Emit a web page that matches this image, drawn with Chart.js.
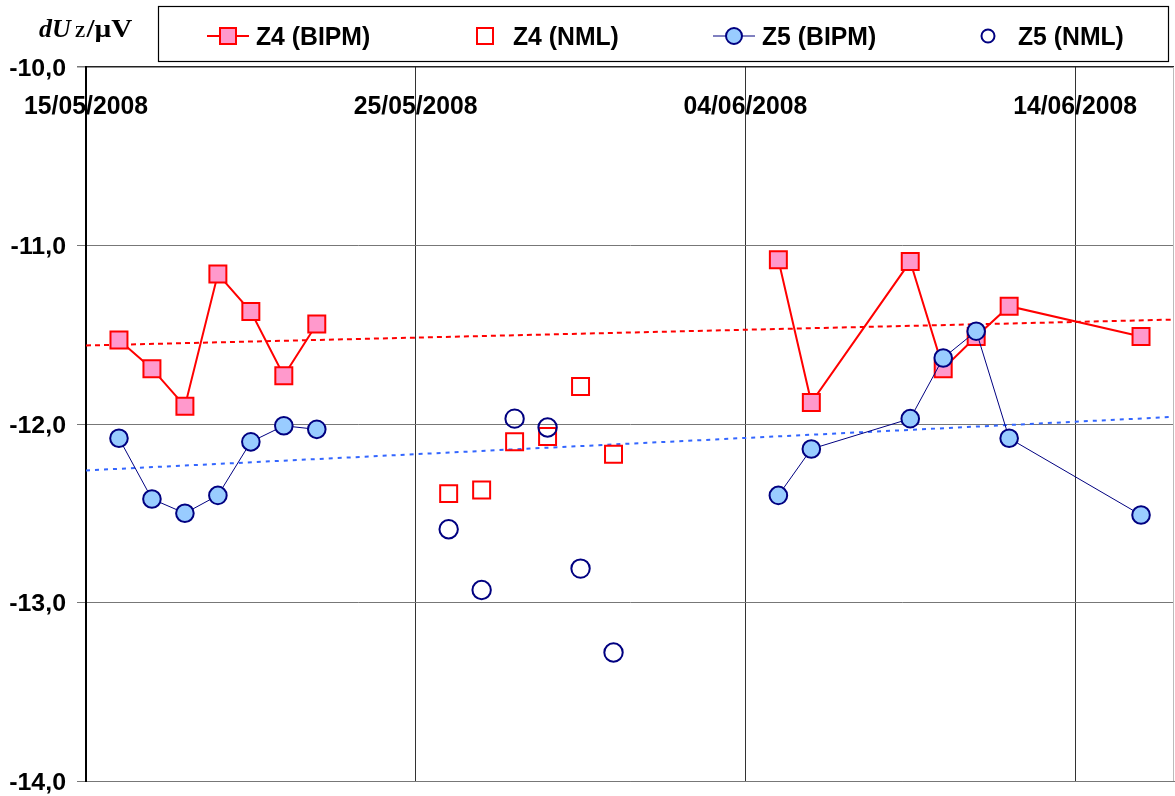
<!DOCTYPE html>
<html>
<head>
<meta charset="utf-8">
<script src="https://cdn.jsdelivr.net/npm/chart.js@4/dist/chart.umd.min.js"></script>
<style>
  body { margin: 0; background: #fff; }
  canvas { display: block; }
</style>
</head>
<body>
<canvas id="dUzChart" width="1175" height="796"></canvas>
<script>
// dates are dd/mm/yyyy, converted to days after 15/05/2008 for a linear x axis
const startDate = "15/05/2008";
const endDate = "17/06/2008";
const xTickDates = ["15/05/2008", "25/05/2008", "04/06/2008", "14/06/2008"];
const yTicks = [-10, -11, -12, -13, -14];

const bipmDates = ["16/05/2008", "17/05/2008", "18/05/2008", "19/05/2008", "20/05/2008", "21/05/2008", "22/05/2008",
  "28/05/2008",
  "05/06/2008", "06/06/2008", "09/06/2008", "10/06/2008", "11/06/2008", "12/06/2008", "16/06/2008"];
const z4Bipm = [-11.53, -11.69, -11.90, -11.16, -11.37, -11.73, -11.44, null, -11.08, -11.88, -11.09, -11.69, -11.51, -11.34, -11.51];
const z5Bipm = [-12.08, -12.42, -12.50, -12.40, -12.10, -12.01, -12.03, null, -12.40, -12.14, -11.97, -11.63, -11.48, -12.08, -12.51];

const nmlDates = ["26/05/2008", "27/05/2008", "28/05/2008", "29/05/2008", "30/05/2008", "31/05/2008"];
const z4Nml = [-12.39, -12.37, -12.10, -12.07, -11.79, -12.17];
const z5Nml = [-12.59, -12.93, -11.97, -12.02, -12.81, -13.28];

// linear trend lines (ends)
const trendDates = ["15/05/2008", "17/06/2008"];
const z4Trend = [-11.56, -11.415];
const z5Trend = [-12.26, -11.96];

function dayOf(s) {
  const [d, m, y] = s.split("/").map(Number);
  const [d0, m0, y0] = startDate.split("/").map(Number);
  return (Date.UTC(y, m - 1, d) - Date.UTC(y0, m0 - 1, d0)) / 86400000;
}
function pts(dates, vals) {
  return dates.map((d, i) => ({ x: dayOf(d), y: vals[i] }));
}

const RED = "#ff0000", PINK = "#ff99cc", NAVY = "#000080", LIGHTBLUE = "#99ccff";
const SANS = "'Liberation Sans', Arial, sans-serif";
const SERIF = "'Liberation Serif', 'Times New Roman', serif";

function stretchText(ctx, text, x, y, font, align, sx) {
  ctx.save();
  ctx.font = font;
  ctx.textAlign = align;
  ctx.textBaseline = "alphabetic";
  ctx.fillStyle = "#000";
  ctx.translate(x, y);
  ctx.scale(sx, 1);
  ctx.fillText(text, 0, 0);
  const w = ctx.measureText(text).width * sx;
  ctx.restore();
  return w;
}

const extras = {
  id: "extras",
  afterDraw(chart) {
    const ctx = chart.ctx;
    const xs = chart.scales.x, ys = chart.scales.y;
    const area = chart.chartArea;

    // right border
    ctx.save();
    ctx.strokeStyle = "#bbbbbb";
    ctx.lineWidth = 1;
    ctx.beginPath();
    ctx.moveTo(area.right - 0.5, area.top);
    ctx.lineTo(area.right - 0.5, area.bottom);
    ctx.stroke();
    ctx.restore();

    // y tick labels
    yTicks.forEach(v => {
      const y = ys.getPixelForValue(v);
      stretchText(ctx, v.toFixed(1).replace(".", ","), 66, y + 8.5, "bold 23.5px " + SANS, "right", 1.06);
    });
    // x tick labels, inside the plot under the top axis
    xTickDates.forEach(d => {
      const x = xs.getPixelForValue(dayOf(d));
      stretchText(ctx, d, x, 113.5, "bold 25px " + SANS, "center", 0.99);
    });

    // axis title dU_Z/µV
    let tx = 39;
    tx += stretchText(ctx, "dU", tx, 37, "italic bold 26px " + SERIF, "left", 1.0);
    tx += 4;
    tx += stretchText(ctx, "Z", tx, 37, "bold 16px " + SERIF, "left", 1.0);
    stretchText(ctx, "/\u00b5V", tx + 1, 37, "bold 26px " + SERIF, "left", 1.12);

    // legend box
    ctx.save();
    ctx.strokeStyle = "#000";
    ctx.lineWidth = 1.2;
    ctx.strokeRect(158.5, 6.5, 1010, 55);
    const ly = 36;
    // Z4 (BIPM)
    ctx.strokeStyle = RED; ctx.lineWidth = 2;
    ctx.beginPath(); ctx.moveTo(207, ly); ctx.lineTo(249, ly); ctx.stroke();
    ctx.fillStyle = PINK;
    ctx.fillRect(220, ly - 8, 16, 16);
    ctx.strokeRect(220, ly - 8, 16, 16);
    // Z4 (NML)
    ctx.strokeRect(477, ly - 8, 16, 16);
    // Z5 (BIPM)
    ctx.strokeStyle = NAVY; ctx.lineWidth = 1;
    ctx.beginPath(); ctx.moveTo(713, ly); ctx.lineTo(755, ly); ctx.stroke();
    ctx.lineWidth = 2; ctx.fillStyle = LIGHTBLUE;
    ctx.beginPath(); ctx.arc(734, ly, 8, 0, Math.PI * 2); ctx.fill(); ctx.stroke();
    // Z5 (NML)
    ctx.beginPath(); ctx.arc(988, ly, 6.5, 0, Math.PI * 2); ctx.stroke();
    ctx.restore();
    const lf = "bold 25px " + SANS;
    stretchText(ctx, "Z4 (BIPM)", 256, ly + 9, lf, "left", 0.99);
    stretchText(ctx, "Z4 (NML)", 513, ly + 9, lf, "left", 0.99);
    stretchText(ctx, "Z5 (BIPM)", 762, ly + 9, lf, "left", 0.99);
    stretchText(ctx, "Z5 (NML)", 1018, ly + 9, lf, "left", 0.99);
  }
};

const ctx = document.getElementById("dUzChart").getContext("2d");
const dUzChart = new Chart(ctx, {
  type: "line",
  data: {
    datasets: [
      {
        label: "Z5 (NML)",
        data: pts(nmlDates, z5Nml),
        showLine: false,
        pointStyle: "circle",
        pointRadius: 9.2,
        pointBorderWidth: 2,
        pointBorderColor: NAVY,
        pointBackgroundColor: "rgba(0,0,0,0)",
        order: 1,
      },
      {
        label: "Z5 (BIPM)",
        data: pts(bipmDates, z5Bipm),
        borderColor: NAVY,
        borderWidth: 1,
        pointStyle: "circle",
        pointRadius: 8.8,
        pointBorderWidth: 2,
        pointBorderColor: NAVY,
        pointBackgroundColor: LIGHTBLUE,
        order: 2,
      },
      {
        label: "Z4 (NML)",
        data: pts(nmlDates, z4Nml),
        showLine: false,
        pointStyle: "rect",
        pointRadius: 12,
        pointBorderWidth: 2,
        pointBorderColor: RED,
        pointBackgroundColor: "rgba(0,0,0,0)",
        order: 3,
      },
      {
        label: "Z4 (BIPM)",
        data: pts(bipmDates, z4Bipm),
        borderColor: RED,
        borderWidth: 2,
        pointStyle: "rect",
        pointRadius: 12,
        pointBorderWidth: 2,
        pointBorderColor: RED,
        pointBackgroundColor: PINK,
        order: 4,
      },
      {
        label: "Z4 trend",
        data: pts(trendDates, z4Trend),
        borderColor: RED,
        borderWidth: 2,
        borderDash: [5, 4],
        pointRadius: 0,
        order: 5,
      },
      {
        label: "Z5 trend",
        data: pts(trendDates, z5Trend),
        borderColor: "#3366ff",
        borderWidth: 2,
        borderDash: [4, 5],
        pointRadius: 0,
        order: 6,
      },
    ],
  },
  options: {
    responsive: false,
    animation: false,
    spanGaps: false,
    layout: {
      autoPadding: false,
      padding: { left: 77, top: 67, right: 1, bottom: 15 },
    },
    scales: {
      x: {
        type: "linear",
        position: "bottom",
        min: 0,
        max: dayOf(endDate),
        ticks: { display: false, stepSize: 10, includeBounds: false },
        grid: { color: "#333333", lineWidth: 1, drawTicks: false },
        border: { color: "#777777", width: 1 },
      },
      y: {
        min: -14,
        max: -10,
        ticks: { display: false, stepSize: 1 },
        grid: {
          color: (c) => (c.tick && c.tick.value === -10 ? "#222222" : "#777777"),
          lineWidth: (c) => (c.tick && c.tick.value === -10 ? 1.5 : 1),
          drawTicks: true,
          tickLength: 9,
          tickColor: "#777777",
        },
        border: { color: "#000000", width: 2 },
      },
    },
    plugins: {
      legend: { display: false },
      tooltip: { enabled: false },
    },
  },
  plugins: [extras],
});
</script>
</body>
</html>
